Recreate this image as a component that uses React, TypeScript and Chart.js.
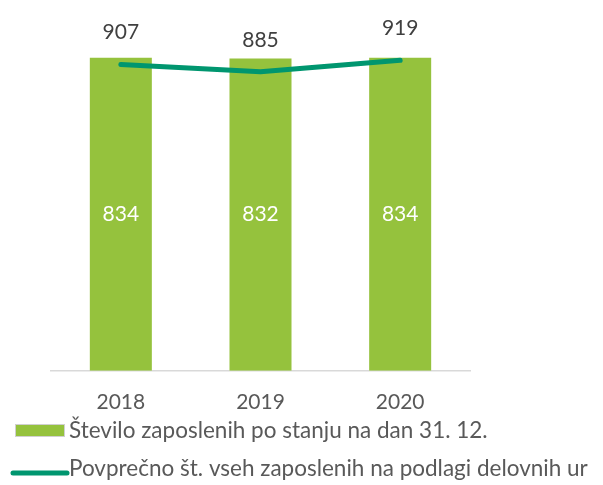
import React, { useEffect, useRef } from "react";
import { Chart, registerables } from "chart.js";

Chart.register(...registerables);

const categories = ["2018", "2019", "2020"];
const barValues = [834, 832, 834];
const lineValues = [907, 885, 919];
const barLabel = "Število zaposlenih po stanju na dan 31. 12.";
const lineLabel = "Povprečno št. vseh zaposlenih na podlagi delovnih ur";

const BAR_COLOR = "#95C23D";
const LINE_COLOR = "#00966F";
const FONT = "Lato, 'Open Sans', sans-serif";

const labelsPlugin = {
  id: "customLabels",
  afterDatasetsDraw(chart: any) {
    const ctx = chart.ctx;
    ctx.save();
    ctx.font = `21px ${FONT}`;
    ctx.textAlign = "center";
    ctx.textBaseline = "middle";
    const barMeta = chart.getDatasetMeta(1);
    barMeta.data.forEach((el: any, i: number) => {
      ctx.fillStyle = "#FFFFFF";
      ctx.fillText(String(barValues[i]), el.x, (el.y + el.base) / 2);
    });
    const lineMeta = chart.getDatasetMeta(0);
    lineMeta.data.forEach((el: any, i: number) => {
      ctx.fillStyle = "#404040";
      ctx.fillText(String(lineValues[i]), el.x, el.y - 32);
    });
    ctx.restore();
  },
  afterDraw(chart: any) {
    const ctx = chart.ctx;
    const h = chart.height;
    ctx.save();
    ctx.font = `22.5px ${FONT}`;
    ctx.textAlign = "left";
    ctx.textBaseline = "middle";
    // bar legend item
    const y1 = h - 54;
    ctx.fillStyle = BAR_COLOR;
    ctx.fillRect(15, y1 - 7, 50, 13);
    ctx.strokeStyle = "#D0D0D0";
    ctx.lineWidth = 1;
    ctx.strokeRect(15.5, y1 - 6.5, 49, 12);
    ctx.fillStyle = "#595959";
    ctx.fillText(barLabel, 69, y1);
    // line legend item
    const y2 = h - 16;
    ctx.strokeStyle = LINE_COLOR;
    ctx.lineWidth = 5;
    ctx.lineCap = "round";
    ctx.beginPath();
    ctx.moveTo(13, y2 + 4);
    ctx.lineTo(67, y2 + 4);
    ctx.stroke();
    ctx.fillStyle = "#595959";
    ctx.fillText(lineLabel, 69, y2);
    ctx.restore();
  },
};

export default function App() {
  const ref = useRef<HTMLCanvasElement | null>(null);
  useEffect(() => {
    if (!ref.current) return;
    const chart = new Chart(ref.current, {
      type: "bar",
      data: {
        labels: categories,
        datasets: [
          {
            type: "line",
            label: lineLabel,
            data: lineValues,
            borderColor: LINE_COLOR,
            backgroundColor: LINE_COLOR,
            borderWidth: 5,
            borderCapStyle: "round",
            borderJoinStyle: "round",
            pointRadius: 0,
            tension: 0,
            yAxisID: "y1",
            order: 0,
          } as any,
          {
            type: "bar",
            label: barLabel,
            data: barValues,
            backgroundColor: BAR_COLOR,
            borderWidth: 0,
            categoryPercentage: 1,
            barPercentage: 0.444,
            yAxisID: "y",
            order: 1,
          },
        ],
      },
      options: {
        responsive: false,
        animation: false,
        layout: { padding: { left: 51, right: 133, top: 33, bottom: 51 } },
        plugins: {
          legend: { display: false },
          tooltip: { enabled: false },
        },
        scales: {
          x: {
            grid: { display: false, drawTicks: false },
            border: { display: true, color: "#D9D9D9", width: 1.5 },
            ticks: {
              color: "#595959",
              font: { family: FONT, size: 21 },
              padding: 19,
            },
          },
          y: { display: false, min: 0, max: 900 },
          y1: { display: false, min: 0, max: 1000, position: "right" },
        },
      },
      plugins: [labelsPlugin],
    });
    return () => chart.destroy();
  }, []);
  return (
    <div style={{ position: "fixed", left: 0, top: 0, width: 603, height: 485, background: "#fff" }}>
      <canvas ref={ref} width={603} height={485} style={{ display: "block" }} />
    </div>
  );
}
